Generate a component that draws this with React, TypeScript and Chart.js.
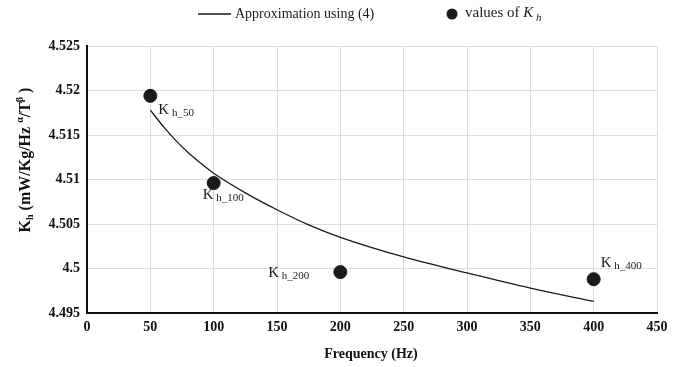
import React, { useEffect, useRef } from "react";
import { Chart, registerables } from "chart.js";

Chart.register(...registerables);

const approxFreq = [50, 60, 70, 80, 90, 100, 125, 150, 175, 200, 250, 300, 350, 400];
const approxKh = [4.5178, 4.5160, 4.5144, 4.5130, 4.5118, 4.5107, 4.5085, 4.5066, 4.5049, 4.5035, 4.5013, 4.4995, 4.4978, 4.4963];
const measFreq = [50, 100, 200, 400];
const measKh = [4.5194, 4.5096, 4.4996, 4.4988];
const measSub = ["h_50", "h_100", "h_200", "h_400"];
const xTicks = [0, 50, 100, 150, 200, 250, 300, 350, 400, 450];
const yTicks = [4.495, 4.5, 4.505, 4.51, 4.515, 4.52, 4.525];

const SERIF = "'Liberation Serif', 'Times New Roman', serif";

type Piece = { t: string; font: string; dy: number };

function drawPieces(ctx: CanvasRenderingContext2D, pieces: Piece[], x: number, y: number, align: "left" | "center" | "right") {
  let total = 0;
  for (const p of pieces) {
    ctx.font = p.font;
    total += ctx.measureText(p.t).width;
  }
  let cx = align === "left" ? x : align === "center" ? x - total / 2 : x - total;
  ctx.textAlign = "left";
  ctx.textBaseline = "middle";
  for (const p of pieces) {
    ctx.font = p.font;
    ctx.fillText(p.t, cx, y + p.dy);
    cx += ctx.measureText(p.t).width;
  }
}

const labelOffsets: { dx: number; dy: number; align: "left" | "right" }[] = [
  { dx: 8, dy: 14, align: "left" },
  { dx: -11, dy: 12, align: "left" },
  { dx: -31, dy: 1, align: "right" },
  { dx: 7, dy: -16, align: "left" },
];

const decorPlugin = {
  id: "decor",
  afterDraw(chart: any) {
    const ctx: CanvasRenderingContext2D = chart.ctx;
    ctx.save();
    ctx.fillStyle = "#1a1a1a";
    ctx.strokeStyle = "#1a1a1a";

    const xs = chart.scales.x;
    const ys = chart.scales.y;
    measFreq.forEach((f, i) => {
      const px = xs.getPixelForValue(f);
      const py = ys.getPixelForValue(measKh[i]);
      const o = labelOffsets[i];
      drawPieces(
        ctx,
        [
          { t: "K", font: `15px ${SERIF}`, dy: 0 },
          { t: " " + measSub[i], font: `11px ${SERIF}`, dy: 3 },
        ],
        px + o.dx,
        py + o.dy,
        o.align
      );
    });

    // legend
    ctx.lineWidth = 1.3;
    ctx.beginPath();
    ctx.moveTo(198, 14);
    ctx.lineTo(231, 14);
    ctx.stroke();
    drawPieces(ctx, [{ t: "Approximation using (4)", font: `14px ${SERIF}`, dy: 0 }], 235, 14, "left");
    ctx.beginPath();
    ctx.arc(452, 14, 5.5, 0, Math.PI * 2);
    ctx.fill();
    drawPieces(
      ctx,
      [
        { t: "values of ", font: `15px ${SERIF}`, dy: 0 },
        { t: "K", font: `italic 15px ${SERIF}`, dy: 0 },
        { t: " h", font: `italic 11px ${SERIF}`, dy: 5 },
      ],
      465,
      13,
      "left"
    );

    ctx.fillStyle = "#111";
    drawPieces(ctx, [{ t: "Frequency (Hz)", font: `bold 14px ${SERIF}`, dy: 0 }], 371, 354, "center");

    ctx.save();
    ctx.translate(26, 160);
    ctx.rotate(-Math.PI / 2);
    drawPieces(
      ctx,
      [
        { t: "K", font: `bold 16px ${SERIF}`, dy: 0 },
        { t: "h", font: `bold 10px ${SERIF}`, dy: 4 },
        { t: " (mW/Kg/Hz ", font: `bold 16px ${SERIF}`, dy: 0 },
        { t: "α", font: `bold 10px ${SERIF}`, dy: -6 },
        { t: "/T", font: `bold 16px ${SERIF}`, dy: 0 },
        { t: "β", font: `bold 10px ${SERIF}`, dy: -6 },
        { t: " )", font: `bold 16px ${SERIF}`, dy: 0 },
      ],
      0,
      0,
      "center"
    );
    ctx.restore();
    ctx.restore();
  },
};

export default function App() {
  const ref = useRef<HTMLCanvasElement>(null);
  useEffect(() => {
    if (!ref.current) return;
    const chart = new Chart(ref.current, {
      type: "scatter",
      data: {
        datasets: [
          {
            type: "line",
            label: "Approximation using (4)",
            data: approxFreq.map((f, i) => ({ x: f, y: approxKh[i] })),
            borderColor: "#1a1a1a",
            borderWidth: 1.3,
            pointRadius: 0,
            cubicInterpolationMode: "monotone",
            fill: false,
          } as any,
          {
            label: "values of K_h",
            data: measFreq.map((f, i) => ({ x: f, y: measKh[i] })),
            backgroundColor: "#1a1a1a",
            borderColor: "#1a1a1a",
            pointRadius: 6.5,
            pointHoverRadius: 6.5,
          },
        ],
      },
      options: {
        animation: false,
        responsive: true,
        maintainAspectRatio: false,
        layout: { padding: { left: 0, top: 46, right: 26, bottom: 0 } },
        plugins: { legend: { display: false }, tooltip: { enabled: false } },
        scales: {
          x: {
            type: "linear",
            min: 0,
            max: 450,
            afterBuildTicks: (s: any) => {
              s.ticks = xTicks.map((v) => ({ value: v }));
            },
            afterFit: (s: any) => {
              s.height = 54;
            },
            ticks: {
              color: "#111",
              font: { family: SERIF, size: 14, weight: "bold" },
              padding: 6,
              maxRotation: 0,
              callback: (v: any) => String(v),
            },
            grid: { color: "#dcdcdc", lineWidth: 1, drawTicks: false },
            border: { color: "#111", width: 2 },
          },
          y: {
            type: "linear",
            min: 4.495,
            max: 4.525,
            afterBuildTicks: (s: any) => {
              s.ticks = yTicks.map((v) => ({ value: v }));
            },
            afterFit: (s: any) => {
              s.width = 87;
            },
            ticks: {
              color: "#111",
              font: { family: SERIF, size: 14, weight: "bold" },
              padding: 7,
              callback: (v: any) => String(Number(Number(v).toFixed(3))),
            },
            grid: { color: "#dcdcdc", lineWidth: 1, drawTicks: false },
            border: { color: "#111", width: 2 },
          },
        },
      },
      plugins: [decorPlugin],
    } as any);
    return () => chart.destroy();
  }, []);
  return (
    <div style={{ position: "fixed", left: 0, top: 0, width: 683, height: 367, background: "#fff" }}>
      <canvas ref={ref} />
    </div>
  );
}
